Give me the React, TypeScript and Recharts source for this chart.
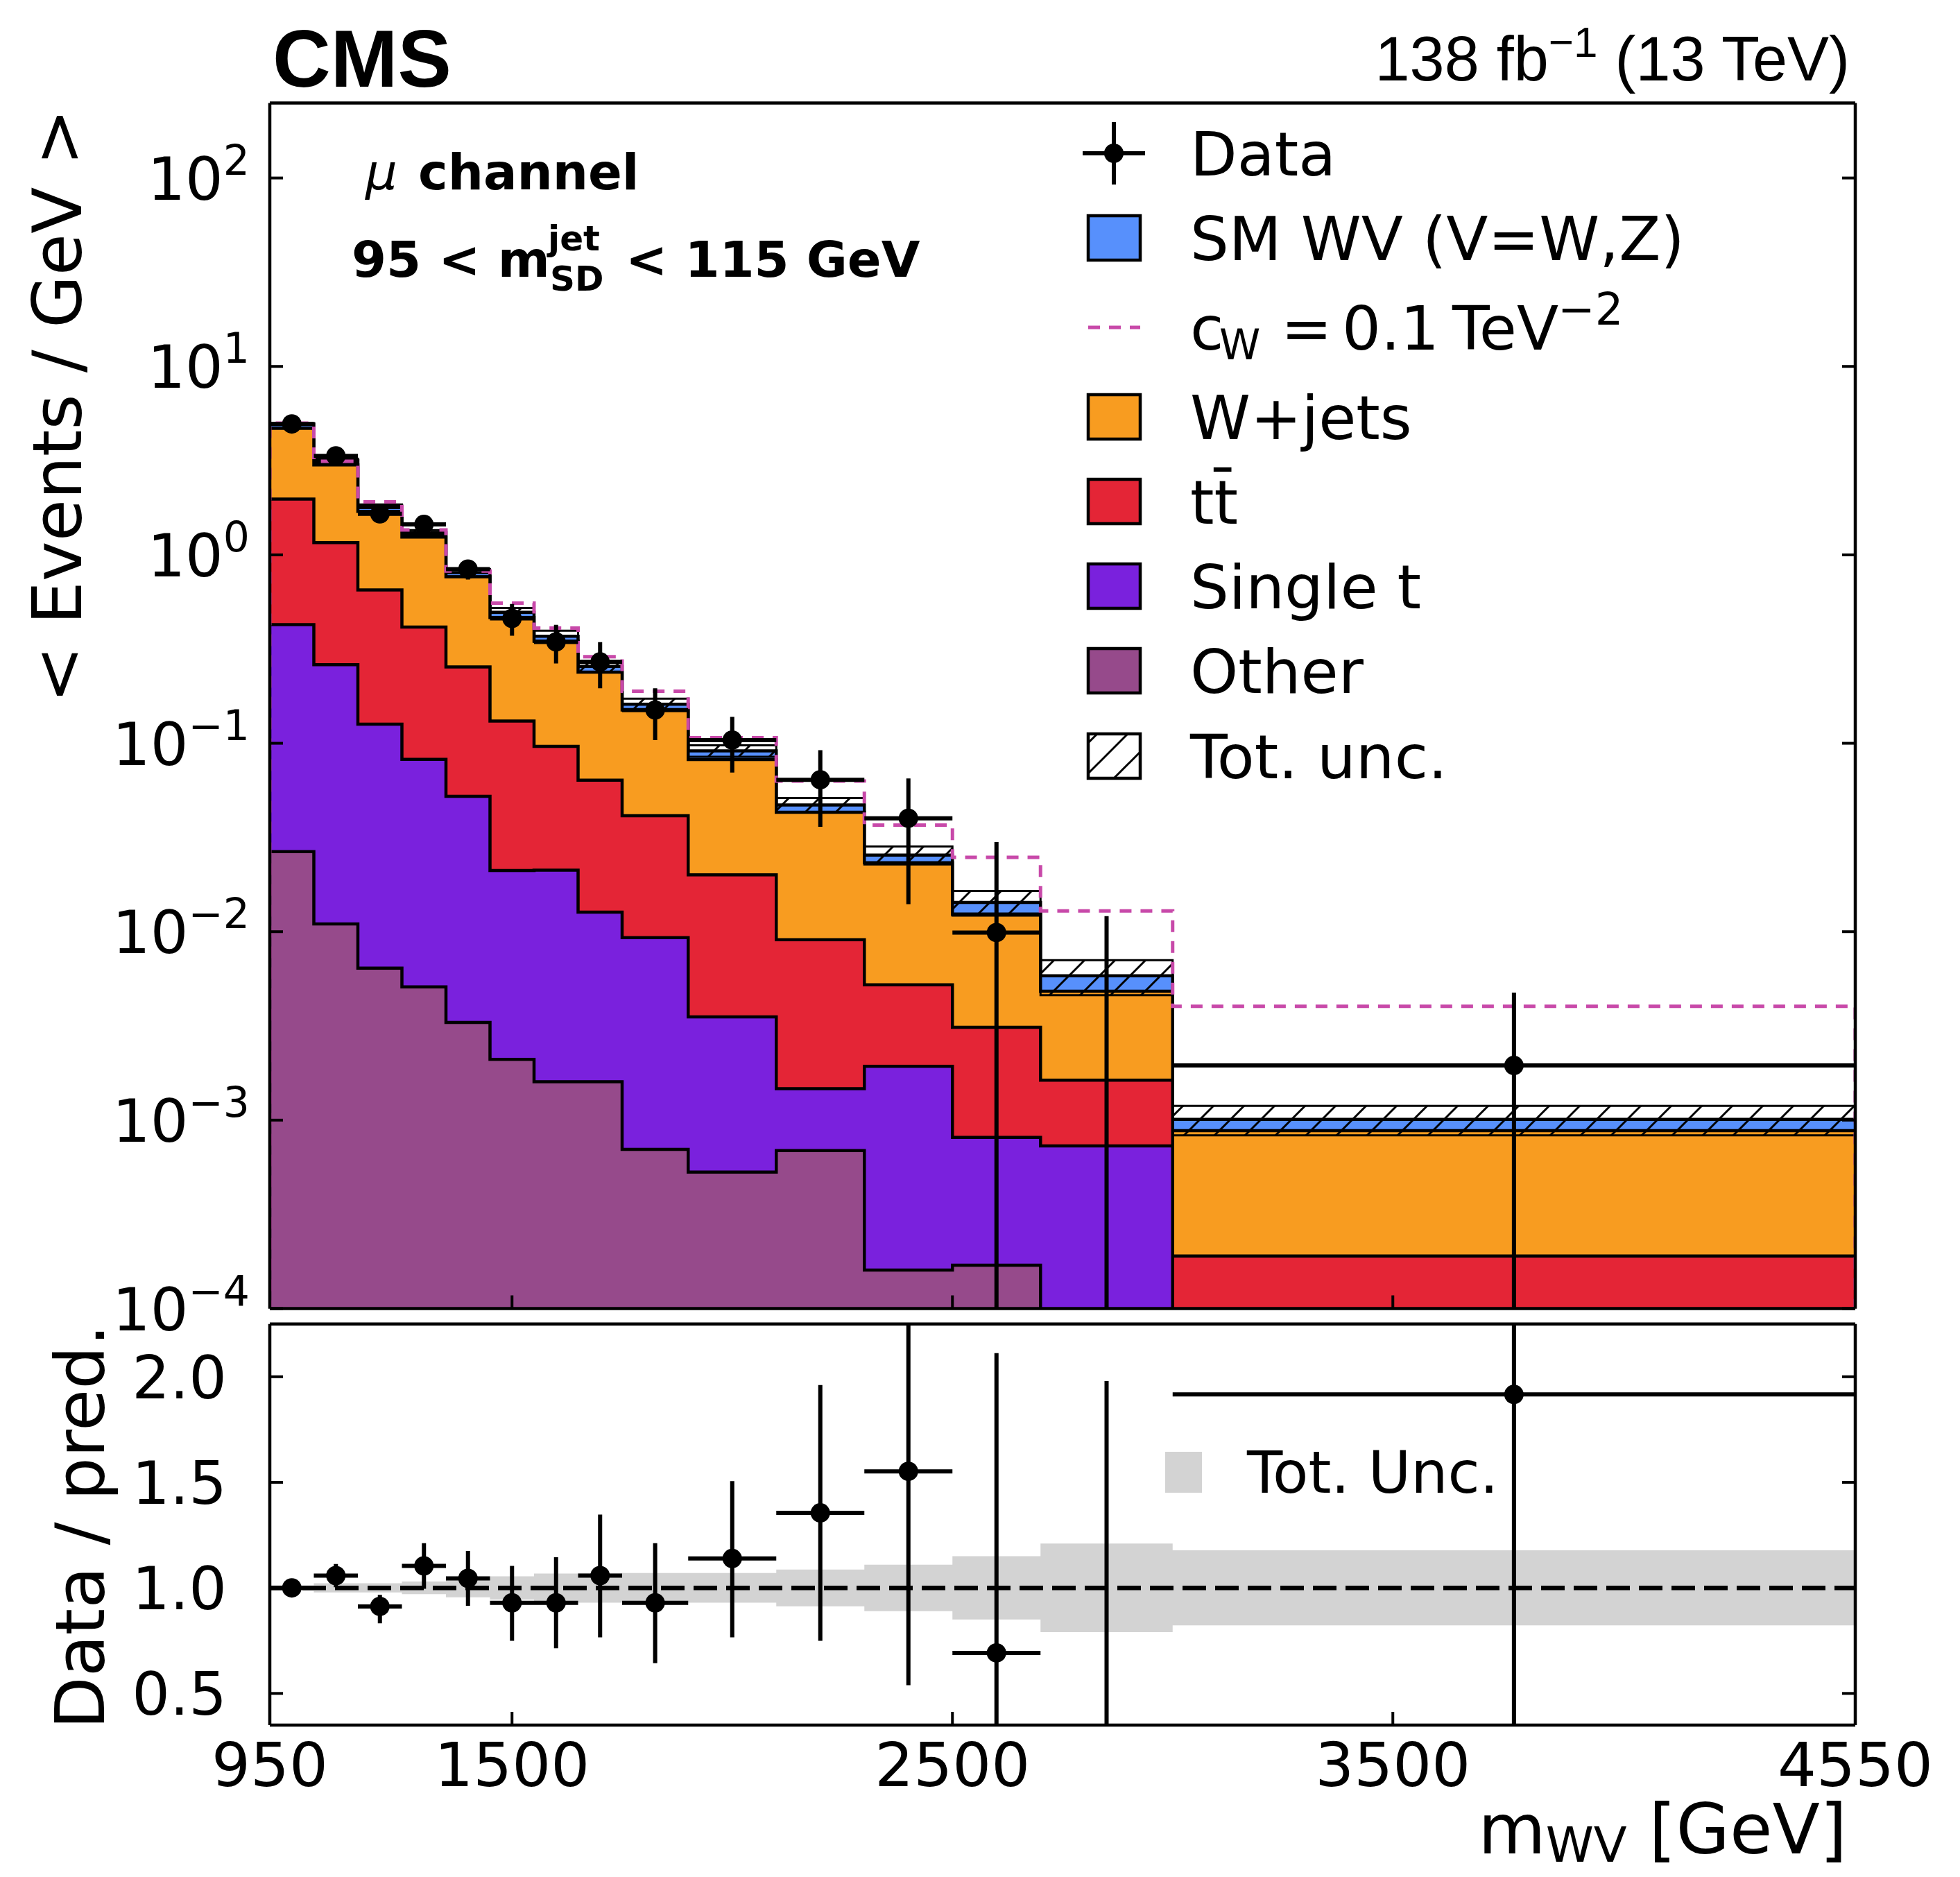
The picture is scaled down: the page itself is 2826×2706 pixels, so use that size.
import { ComposedChart, Area, Line, XAxis, YAxis, ReferenceLine } from "recharts";

// m_WV binning [GeV]
const binEdges = [950, 1050, 1150, 1250, 1350, 1450, 1550, 1650, 1750, 1900, 2100, 2300, 2500, 2700, 3000, 4550];

// expected < events / GeV > per process, one value per bin
const otherYield = [0.0266, 0.011, 0.0064, 0.0051, 0.0033, 0.0021, 0.0016, 0.0016, 0.0007, 0.00053, 0.00069, 0.00016, 0.00017, 0.00006, 0.00004];
const singleTopYield = [0.4, 0.25, 0.12, 0.077, 0.049, 0.019, 0.0196, 0.0111, 0.0086, 0.003, 0.00078, 0.00177, 0.00064, 0.00067, 0.00005];
const ttbarYield = [1.55, 0.9, 0.525, 0.332, 0.202, 0.11, 0.075, 0.051, 0.032, 0.0165, 0.0076, 0.0033, 0.0023, 0.0009, 0.0001];
const wjetsYield = [2.72, 1.84, 1.05, 0.83, 0.51, 0.334, 0.252, 0.175, 0.109, 0.062, 0.034, 0.018, 0.0093, 0.0032, 0.00069];
const smWVYield = [0.25, 0.17, 0.11, 0.07, 0.04, 0.03, 0.022, 0.017, 0.011, 0.0092, 0.004, 0.0023, 0.0019, 0.001, 0.00013];

// total prediction with c_W = 0.1 TeV^-2
const cwTotal = [5.0, 3.14, 1.91, 1.355, 0.82, 0.554, 0.409, 0.288, 0.189, 0.107, 0.063, 0.0368, 0.0248, 0.0129, 0.00402];

// relative total uncertainty on the prediction
const relUnc = [0.012, 0.022, 0.022, 0.03, 0.045, 0.055, 0.068, 0.07, 0.07, 0.07, 0.087, 0.11, 0.15, 0.21, 0.178];

// data
const dataValue = [4.95, 3.35, 1.65, 1.45, 0.84, 0.46, 0.345, 0.27, 0.15, 0.104, 0.064, 0.04, 0.0099, 0, 0.00195];
const dataErrUp = [0.12, 0.18, 0.11, 0.14, 0.1, 0.088, 0.08, 0.074, 0.046, 0.034, 0.028, 0.025, 0.02, 0.0121, 0.0028];
const dataErrDown = [0.12, 0.18, 0.11, 0.14, 0.1, 0.088, 0.08, 0.074, 0.046, 0.034, 0.028, 0.026, 0.0099, 0, 0.00195];

// data / prediction
const ratioValue = [1.0, 1.058, 0.912, 1.104, 1.045, 0.929, 0.929, 1.058, 0.929, 1.139, 1.355, 1.552, 0.692, 0, 1.916];
const ratioErrUp = [0.02, 0.055, 0.055, 0.108, 0.13, 0.175, 0.216, 0.289, 0.283, 0.367, 0.606, 0.95, 1.42, 1.98, 2.8];
const ratioErrDown = [0.02, 0.055, 0.08, 0.108, 0.13, 0.18, 0.215, 0.292, 0.286, 0.373, 0.606, 1.013, 0.692, 0, 1.916];

const xTicks = [950, 1500, 2500, 3500, 4550];
const logTicks = [1e-4, 1e-3, 1e-2, 1e-1, 1, 10, 100];
const ratioTicks = [0.5, 1.0, 1.5, 2.0];

const colors = {
  smwv: "#5790fc",
  wjets: "#f89c20",
  ttbar: "#e42536",
  singleTop: "#7a21dd",
  other: "#964a8b",
  cw: "#c849a9",
  unc: "#d3d3d3",
};

const FONT = "DejaVu Sans";
const LOG_FLOOR = 1e-7;
const nBins = binEdges.length - 1;
const binCenters = binEdges.slice(0, -1).map((e, i) => (e + binEdges[i + 1]) / 2);

// one row per bin edge, last bin repeated so the step closes at 4550
const rows = binEdges.map((x, i) => {
  const b = Math.min(i, nBins - 1);
  const other = otherYield[b];
  const singleTop = other + singleTopYield[b];
  const ttbar = singleTop + ttbarYield[b];
  const wjets = ttbar + wjetsYield[b];
  const smwv = wjets + smWVYield[b];
  return {
    x,
    other,
    singleTop,
    ttbar,
    wjets,
    smwv,
    band: [smwv * (1 - relUnc[b]), smwv * (1 + relUnc[b])],
    ratioBand: [1 - relUnc[b], 1 + relUnc[b]],
  };
});

const cwRows = [
  { x: binEdges[0], y: LOG_FLOOR },
  ...binEdges.map((x, i) => ({ x, y: cwTotal[Math.min(i, nBins - 1)] })),
  { x: binEdges[nBins], y: LOG_FLOOR },
];

type Pt = { x: number; y: number | null };

function errorSegments(values: number[], up: number[], down: number[], floor: number): Pt[] {
  const pts: Pt[] = [];
  values.forEach((v, i) => {
    const c = binCenters[i];
    const lo = v - down[i];
    pts.push({ x: c, y: lo > floor ? lo : floor }, { x: c, y: v + up[i] }, { x: c, y: null });
    if (v > floor) {
      pts.push({ x: binEdges[i], y: v }, { x: binEdges[i + 1], y: v }, { x: binEdges[i + 1], y: null });
    }
  });
  return pts;
}

function markers(values: number[], floor: number): Pt[] {
  return values.map((v, i) => ({ x: binCenters[i], y: v })).filter((p) => (p.y as number) > floor);
}

const dataBars = errorSegments(dataValue, dataErrUp, dataErrDown, LOG_FLOOR);
const dataDots = markers(dataValue, LOG_FLOOR);
const ratioBars = errorSegments(ratioValue, ratioErrUp, ratioErrDown, 0);
const ratioDots = markers(ratioValue, 0);

const axisProps = {
  stroke: "#000",
  axisLine: { stroke: "#000", strokeWidth: 4.5 },
  tickLine: { stroke: "#000", strokeWidth: 4 },
  tickSize: -19,
  interval: 0 as const,
  allowDataOverflow: true,
};

const NoTick = () => <g />;

function LogTick(props: any) {
  const { x, y, payload } = props;
  const exp = Math.round(Math.log10(payload.value));
  const label = exp < 0 ? `\u2212${-exp}` : String(exp);
  return (
    <text x={x} y={y + 31} textAnchor="end" fontFamily={FONT} fontSize={86} fill="#000">
      10
      <tspan dy={-36} fontSize={60}>
        {label}
      </tspan>
    </text>
  );
}

function RatioTick(props: any) {
  const { x, y, payload } = props;
  return (
    <text x={x} y={y + 31} textAnchor="end" fontFamily={FONT} fontSize={86} fill="#000">
      {payload.value.toFixed(1)}
    </text>
  );
}

function XTick(props: any) {
  const { x, y, payload } = props;
  return (
    <text x={x} y={y} textAnchor="middle" fontFamily={FONT} fontSize={88} fill="#000">
      {payload.value}
    </text>
  );
}

function MainPanel() {
  return (
    <ComposedChart
      width={2826}
      height={1960}
      data={rows}
      margin={{ top: 147.5, right: 150, bottom: 72.5, left: 189 }}
    >
      <XAxis {...axisProps} dataKey="x" type="number" domain={[950, 4550]} ticks={xTicks} height={1} tick={NoTick} />
      <XAxis {...axisProps} xAxisId="top" orientation="top" type="number" domain={[950, 4550]} ticks={xTicks} height={1} tick={NoTick} />
      <YAxis
        {...axisProps}
        type="number"
        scale="log"
        domain={[1e-4, 250]}
        ticks={logTicks}
        width={200}
        tickMargin={48}
        tick={(p: any) => <LogTick {...p} />}
      />
      <YAxis
        {...axisProps}
        yAxisId="right"
        orientation="right"
        type="number"
        scale="log"
        domain={[1e-4, 250]}
        ticks={logTicks}
        width={1}
        tick={NoTick}
      />

      {(["smwv", "wjets", "ttbar", "singleTop", "other"] as const).map((k) => (
        <Area
          key={k}
          dataKey={k}
          type="stepAfter"
          baseValue={LOG_FLOOR}
          fill={colors[k]}
          fillOpacity={1}
          stroke="#000"
          strokeWidth={4.5}
          isAnimationActive={false}
        />
      ))}
      <Area
        dataKey="band"
        type="stepAfter"
        fill="url(#unc-hatch)"
        fillOpacity={1}
        stroke="#000"
        strokeWidth={3}
        isAnimationActive={false}
      />
      <Line
        data={cwRows}
        dataKey="y"
        type="stepAfter"
        stroke={colors.cw}
        strokeWidth={5}
        strokeDasharray="17 13"
        dot={false}
        isAnimationActive={false}
      />
      <Line
        data={dataBars}
        dataKey="y"
        type="linear"
        stroke="#000"
        strokeWidth={6}
        dot={false}
        connectNulls={false}
        isAnimationActive={false}
      />
      <Line
        data={dataDots}
        dataKey="y"
        stroke="none"
        dot={{ r: 14, fill: "#000", stroke: "none" }}
        isAnimationActive={false}
      />
    </ComposedChart>
  );
}

function RatioPanel() {
  return (
    <ComposedChart
      width={2826}
      height={826}
      data={rows}
      margin={{ top: 27.7, right: 150, bottom: 126, left: 189 }}
    >
      <XAxis
        {...axisProps}
        dataKey="x"
        type="number"
        domain={[950, 4550]}
        ticks={xTicks}
        height={93}
        tickMargin={107}
        tick={(p: any) => <XTick {...p} />}
      />
      <XAxis {...axisProps} xAxisId="top" orientation="top" type="number" domain={[950, 4550]} ticks={xTicks} height={1} tick={NoTick} />
      <YAxis
        {...axisProps}
        type="number"
        domain={[0.35, 2.25]}
        ticks={ratioTicks}
        width={200}
        tickMargin={81}
        tick={(p: any) => <RatioTick {...p} />}
      />
      <YAxis
        {...axisProps}
        yAxisId="right"
        orientation="right"
        type="number"
        domain={[0.35, 2.25]}
        ticks={ratioTicks}
        width={1}
        tick={NoTick}
      />
      <Area
        dataKey="ratioBand"
        type="stepAfter"
        fill={colors.unc}
        fillOpacity={1}
        stroke="none"
        isAnimationActive={false}
      />
      <ReferenceLine y={1} stroke="#000" strokeWidth={6.5} strokeDasharray="34 13" />
      <Line
        data={ratioBars}
        dataKey="y"
        type="linear"
        stroke="#000"
        strokeWidth={6}
        dot={false}
        connectNulls={false}
        isAnimationActive={false}
      />
      <Line
        data={ratioDots}
        dataKey="y"
        stroke="none"
        dot={{ r: 14, fill: "#000", stroke: "none" }}
        isAnimationActive={false}
      />
    </ComposedChart>
  );
}

const legendRows: { label: string; kind: string; color?: string }[] = [
  { label: "Data", kind: "data" },
  { label: "SM WV (V=W,Z)", kind: "box", color: colors.smwv },
  { label: "cw", kind: "line", color: colors.cw },
  { label: "W+jets", kind: "box", color: colors.wjets },
  { label: "tt\u0304", kind: "box", color: colors.ttbar },
  { label: "Single t", kind: "box", color: colors.singleTop },
  { label: "Other", kind: "box", color: colors.other },
  { label: "Tot. unc.", kind: "hatch" },
];
const legendY = [221, 343, 472, 601, 723, 845, 967, 1090];

function Overlay() {
  const boxX = 1569;
  const textX = 1716;
  return (
    <svg
      width={2826}
      height={2706}
      style={{ position: "absolute", left: 0, top: 0, pointerEvents: "none" }}
    >
      <defs>
        <pattern id="unc-hatch" patternUnits="userSpaceOnUse" width={44} height={44}>
          <path d="M-11,11 L11,-11 M0,44 L44,0 M33,55 L55,33" stroke="#000" strokeWidth={3} />
        </pattern>
      </defs>

      <text x={393} y={124.5} fontFamily="Liberation Sans" fontWeight={700} fontSize={116}>
        CMS
      </text>
      <text x={2667} y={116} textAnchor="end" fontFamily="Liberation Sans" fontSize={90}>
        138 fb
        <tspan dy={-34} fontSize={62}>
          {"\u22121"}
        </tspan>
        <tspan dy={34}>{" (13 TeV)"}</tspan>
      </text>

      <text y={273} fontFamily={FONT} fontSize={72}>
        <tspan x={527} fontStyle="italic">
          {"\u03bc"}
        </tspan>
        <tspan x={603} fontWeight={700}>
          channel
        </tspan>
      </text>
      <text y={398.5} fontFamily={FONT} fontWeight={700} fontSize={72}>
        <tspan x={507}>{"95 < m"}</tspan>
        <tspan x={790} y={361} fontSize={50}>
          jet
        </tspan>
        <tspan x={793} y={419} fontSize={50}>
          SD
        </tspan>
        <tspan x={902} y={398.5}>
          {"< 115 GeV"}
        </tspan>
      </text>

      {legendRows.map((r, i) => {
        const cy = legendY[i];
        const base = cy + 32;
        let handle = null;
        if (r.kind === "data") {
          handle = (
            <g stroke="#000" strokeWidth={6}>
              <line x1={1561} x2={1651} y1={cy} y2={cy} />
              <line x1={1606} x2={1606} y1={cy - 45} y2={cy + 45} />
              <circle cx={1606} cy={cy} r={14} fill="#000" stroke="none" />
            </g>
          );
        } else if (r.kind === "box") {
          handle = <rect x={boxX} y={cy - 32} width={75} height={64} fill={r.color} stroke="#000" strokeWidth={4.5} />;
        } else if (r.kind === "hatch") {
          handle = <rect x={boxX} y={cy - 32} width={75} height={64} fill="url(#unc-hatch)" stroke="#000" strokeWidth={4.5} />;
        } else {
          handle = (
            <line x1={boxX} x2={boxX + 75} y1={cy} y2={cy} stroke={r.color} strokeWidth={5} strokeDasharray="17 13" />
          );
        }
        return (
          <g key={i}>
            {handle}
            {r.kind === "line" ? (
              <text y={base} fontFamily={FONT} fontSize={88}>
                <tspan x={textX}>c</tspan>
                <tspan x={1758} dy={14} fontSize={60}>
                  W
                </tspan>
                <tspan x={1847} dy={-14}>
                  =
                </tspan>
                <tspan x={1935}>0.1</tspan>
                <tspan x={2094}>TeV</tspan>
                <tspan x={2246} dy={-36} fontSize={64}>
                  {"\u22122"}
                </tspan>
              </text>
            ) : (
              <text x={textX} y={base} fontFamily={FONT} fontSize={88}>
                {r.label}
              </text>
            )}
          </g>
        );
      })}

      <rect x={1680} y={2093} width={53} height={59} fill={colors.unc} />
      <text x={1798} y={2152} fontFamily={FONT} fontSize={84}>
        Tot. Unc.
      </text>

      <text transform="translate(117,585) rotate(-90)" textAnchor="middle" fontFamily={FONT} fontSize={98}>
        {"< Events / GeV >"}
      </text>
      <text transform="translate(150,2201) rotate(-90)" textAnchor="middle" fontFamily={FONT} fontSize={98}>
        Data / pred.
      </text>
      <text x={2663} y={2672} textAnchor="end" fontFamily={FONT} fontSize={100}>
        m
        <tspan dy={12} fontSize={70}>
          WV
        </tspan>
        <tspan dy={-12}>{" [GeV]"}</tspan>
      </text>
    </svg>
  );
}

export default function App() {
  return (
    <div style={{ position: "absolute", left: 0, top: 0, width: 2826, height: 2706, background: "#fff" }}>
      <div style={{ position: "absolute", left: 0, top: 0 }}>
        <MainPanel />
      </div>
      <div style={{ position: "absolute", left: 0, top: 1880 }}>
        <RatioPanel />
      </div>
      <Overlay />
    </div>
  );
}
